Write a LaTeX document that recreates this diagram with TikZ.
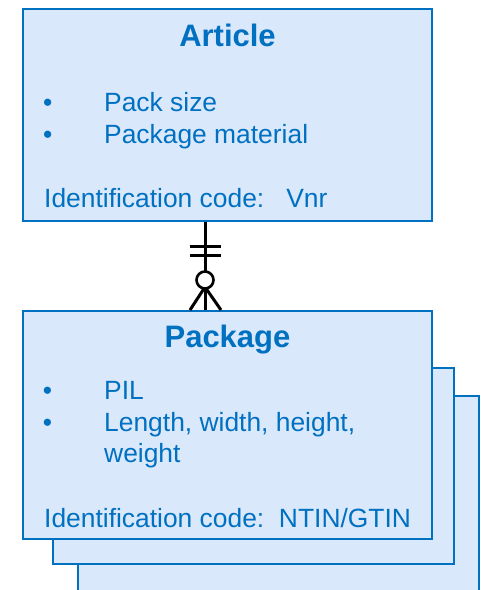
\documentclass[tikz,border=0pt]{standalone}
\usepackage{fontspec}
\setmainfont{Liberation Sans}
\definecolor{erblue}{RGB}{0,112,192}
\definecolor{erfill}{RGB}{218,232,252}
\begin{document}
\begin{tikzpicture}[x=1pt,y=-1pt,
  entity/.style={draw=erblue, fill=erfill, line width=2pt, rectangle, inner sep=0pt},
  titletext/.style={text=erblue, font=\fontsize{31}{37}\selectfont\bfseries, anchor=base, inner sep=0pt},
  bodytext/.style={text=erblue, font=\fontsize{26.4}{31}\selectfont, anchor=base west, inner sep=0pt},
  bullettext/.style={bodytext, anchor=base},
  link/.style={line width=3pt, black}]
\clip (0,0) rectangle (481,590);
% stacked package boxes
\node[entity, minimum width=401pt, minimum height=240pt] (pkg3) at (278.5,516) {};
\node[entity, minimum width=401pt, minimum height=196pt] (pkg2) at (253.5,466) {};
\node[entity, minimum width=409pt, minimum height=228pt] (pkg1) at (227.5,425) {};
\node[entity, minimum width=409pt, minimum height=212pt] (article) at (227.5,115) {};
% Article texts
\node[titletext] (atitle) at (227.5,46.7) {Article};
\node[bullettext] (ab1) at (47.7,111.7) {•};
\node[bodytext] (at1) at (104,111.7) {Pack size};
\node[bullettext] (ab2) at (47.7,143.5) {•};
\node[bodytext] (at2) at (104,143.5) {Package material};
\node[bodytext] (aid) at (44,207.5) {Identification code:\ \ \ Vnr};
% Package texts
\node[titletext] (ptitle) at (227.5,347.7) {Package};
\node[bullettext] (pb1) at (47.4,399) {•};
\node[bodytext] (pt1) at (104,399) {PIL};
\node[bullettext] (pb2) at (47.4,431) {•};
\node[bodytext] (pt2) at (104,431) {Length, width, height,};
\node[bodytext] (pt3) at (104,462.5) {weight};
\node[bodytext] (pid) at (44,527) {Identification code:\ \ NTIN/GTIN};
% connector
\coordinate (cx) at (205,0);
\coordinate (ctop) at (article.south -| cx);
\coordinate (cbot) at (pkg1.north -| cx);
\draw[link] (ctop) -- (cbot);
\draw[link] ([shift={(-15.5,24)}]ctop) -- ++(31,0);
\draw[link] ([shift={(-15.5,33)}]ctop) -- ++(31,0);
\draw[link] ([shift={(0,-23)}]cbot) -- ([shift={(-15,0)}]cbot);
\draw[link] ([shift={(0,-23)}]cbot) -- ([shift={(16,0)}]cbot);
\node[circle, draw=black, fill=white, line width=2.6pt, minimum size=17pt, inner sep=0pt] (zero) at ([shift={(0,58)}]ctop) {};
\end{tikzpicture}
\end{document}
